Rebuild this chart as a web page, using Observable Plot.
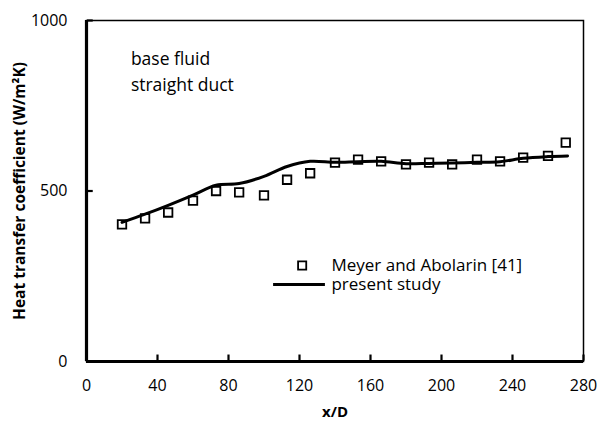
<!DOCTYPE html>
<html>
<head>
<meta charset="utf-8">
<script src="https://cdn.jsdelivr.net/npm/d3@7"></script>
<script src="https://cdn.jsdelivr.net/npm/@observablehq/plot@0.6"></script>
<style>
  html, body { margin: 0; padding: 0; background: #fff; }
  #chart svg { display: block; }
</style>
</head>
<body>
<div id="chart"></div>
<script>
// Measured heat transfer coefficient (Meyer and Abolarin [41])
const xMeyer = [20, 33, 46, 60, 73, 86, 100, 113, 126, 140, 153, 166, 180, 193, 206, 220, 233, 246, 260, 270];
const hMeyer = [402, 420, 437, 472, 500, 496, 487, 533, 552, 583, 592, 587, 578, 583, 578, 592, 587, 598, 603, 642];

// Simulated heat transfer coefficient (present study)
const xPresent = [20, 33, 46, 60, 73, 86, 100, 113, 126, 140, 153, 166, 180, 193, 206, 220, 233, 246, 260, 271];
const hPresent = [408, 432, 458, 488, 517, 522, 543, 572, 587, 584, 586, 587, 580, 581, 582, 584, 586, 596, 601, 603];

// Axis ticks
const xTicks = [0, 40, 80, 120, 160, 200, 240, 280];
const yTicks = [0, 500, 1000];

// Labels
const annotation = ["base fluid", "straight duct"];
const legendLabels = ["Meyer and Abolarin [41]", "present study"];
const xTitle = "x/D";
const yTitle = "Heat transfer coefficient (W/m²K)";

const meyer = xMeyer.map((x, i) => ({x, h: hMeyer[i]}));
const present = xPresent.map((x, i) => ({x, h: hPresent[i]}));

const font = "'Open Sans', sans-serif";

const chart = Plot.plot({
  width: 606,
  height: 423,
  marginLeft: 86,
  marginRight: 23,
  marginTop: 20,
  marginBottom: 62,
  style: {fontFamily: font, fontSize: "15px", color: "#000", background: "#fff"},
  x: {domain: [0, 280], ticks: xTicks},
  y: {domain: [0, 1000], ticks: yTicks},
  marks: [
    // thin top/right frame
    Plot.frame({stroke: "#000", strokeWidth: 1.5}),
    // short inward tick marks
    Plot.ruleX(xTicks, {x: d => d, y1: 1, y2: 19, stroke: "#000", strokeWidth: 2.2}),
    Plot.ruleY(yTicks, {y: d => d, x1: 0.5, x2: 3.8, stroke: "#000", strokeWidth: 2.2}),
    // heavy left and bottom axis lines
    Plot.ruleY([0], {x1: 0, x2: 280, stroke: "#000", strokeWidth: 3.2}),
    Plot.ruleX([0], {y1: 0, y2: 1000, stroke: "#000", strokeWidth: 3.2}),
    Plot.axisX({ticks: xTicks, tickSize: 0, tickPadding: 18, label: null, fontSize: 16, tickFormat: d => String(d)}),
    Plot.axisY({ticks: yTicks, tickSize: 0, tickPadding: 19, label: null, fontSize: 16, tickFormat: d => String(d)}),
    // present study curve
    Plot.line(present, {x: "x", y: "h", stroke: "#000", strokeWidth: 3, curve: "catmull-rom"}),
    // measured points
    Plot.dot(meyer, {x: "x", y: "h", symbol: "square", r: 4.8, stroke: "#000", strokeWidth: 1.8, fill: "none"}),
    // annotation
    Plot.text([annotation.join("\n")], {x: 25, y: 856, text: d => d, textAnchor: "start", lineAnchor: "middle", lineHeight: 1.49, fontSize: 17.5, fill: "#000"}),
    // legend
    Plot.dot([legendLabels[0]], {x: 121.5, y: 281.5, symbol: "square", r: 4.6, stroke: "#000", strokeWidth: 1.8, fill: "none"}),
    Plot.ruleY([226], {x1: 105.4, x2: 134.6, stroke: "#000", strokeWidth: 3}),
    Plot.text(legendLabels, {x: 138, y: (d, i) => i === 0 ? 281.5 : 226, text: d => d, textAnchor: "start", fontSize: 17, fill: "#000"}),
    // axis titles
    Plot.text([xTitle], {frameAnchor: "bottom", dy: 55, text: d => d, textAnchor: "middle", fontWeight: "bold", fontSize: 15, fill: "#000"}),
    Plot.text([yTitle], {frameAnchor: "left", dx: -66, rotate: -90, text: d => d, textAnchor: "middle", fontWeight: "bold", fontSize: 15.5, fill: "#000"})
  ]
});

document.getElementById("chart").appendChild(chart);
</script>
</body>
</html>
